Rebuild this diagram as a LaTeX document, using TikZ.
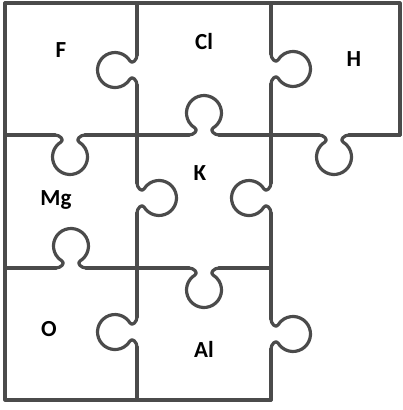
\documentclass[tikz,border=0pt]{standalone}
\usepackage{fontspec}
\setmainfont{Carlito}
\definecolor{pline}{RGB}{75,75,75}
\begin{document}
\begin{tikzpicture}[x=1pt,y=-1pt,
  edge/.style={draw=pline, line width=3.2pt, line cap=round, line join=round},
  lbl/.style={font=\bfseries\fontsize{23}{23}\selectfont, text=black, inner sep=0pt},
  knob/.pic={\draw[edge] (-15,0) .. controls (-10,0) and (-5.5,5) .. (-9,7)
      arc[start angle=239,end angle=-59,radius=17.5]
      .. controls (5.5,5) and (10,0) .. (15,0);}
]
\useasboundingbox[fill=white] (0,0) rectangle (403,410);
% outer frame
\draw[edge] (5,135) -- (5,3) -- (400,3) -- (400,135);
\draw[edge] (5,135) -- (5,400) -- (271,400);
% vertical x=137
\draw[edge] (137,3) -- (137,55);
\draw[edge] (137,85) -- (137,183);
\draw[edge] (137,213) -- (137,317);
\draw[edge] (137,347) -- (137,400);
\pic[rotate=-90] at (137,70) {knob};
\pic[rotate=90] at (137,198) {knob};
\pic[rotate=-90] at (137,332) {knob};
% vertical x=271
\draw[edge] (271,3) -- (271,54);
\draw[edge] (271,84) -- (271,183);
\draw[edge] (271,213) -- (271,319);
\draw[edge] (271,349) -- (271,400);
\pic[rotate=90] at (271,69) {knob};
\pic[rotate=-90] at (271,198) {knob};
\pic[rotate=90] at (271,334) {knob};
% horizontal y=135
\draw[edge] (5,135) -- (55,135);
\draw[edge] (85,135) -- (189,135);
\draw[edge] (219,135) -- (319,135);
\draw[edge] (349,135) -- (400,135);
\pic at (70,135) {knob};
\pic[rotate=180] at (204,135) {knob};
\pic at (334,135) {knob};
% horizontal y=268
\draw[edge] (5,268) -- (56,268);
\draw[edge] (86,268) -- (189,268);
\draw[edge] (219,268) -- (271,268);
\pic[rotate=180] at (71,268) {knob};
\pic at (204,268) {knob};
% labels
\node[lbl] (f) at (61,50) {F};
\node[lbl] (cl) at (204,42) {Cl};
\node[lbl] (h) at (354,59) {H};
\node[lbl] (mg) at (56,200) {Mg};
\node[lbl] (k) at (200,173) {K};
\node[lbl] (o) at (49,329) {O};
\node[lbl] (al) at (204,349) {Al};
\end{tikzpicture}
\end{document}
